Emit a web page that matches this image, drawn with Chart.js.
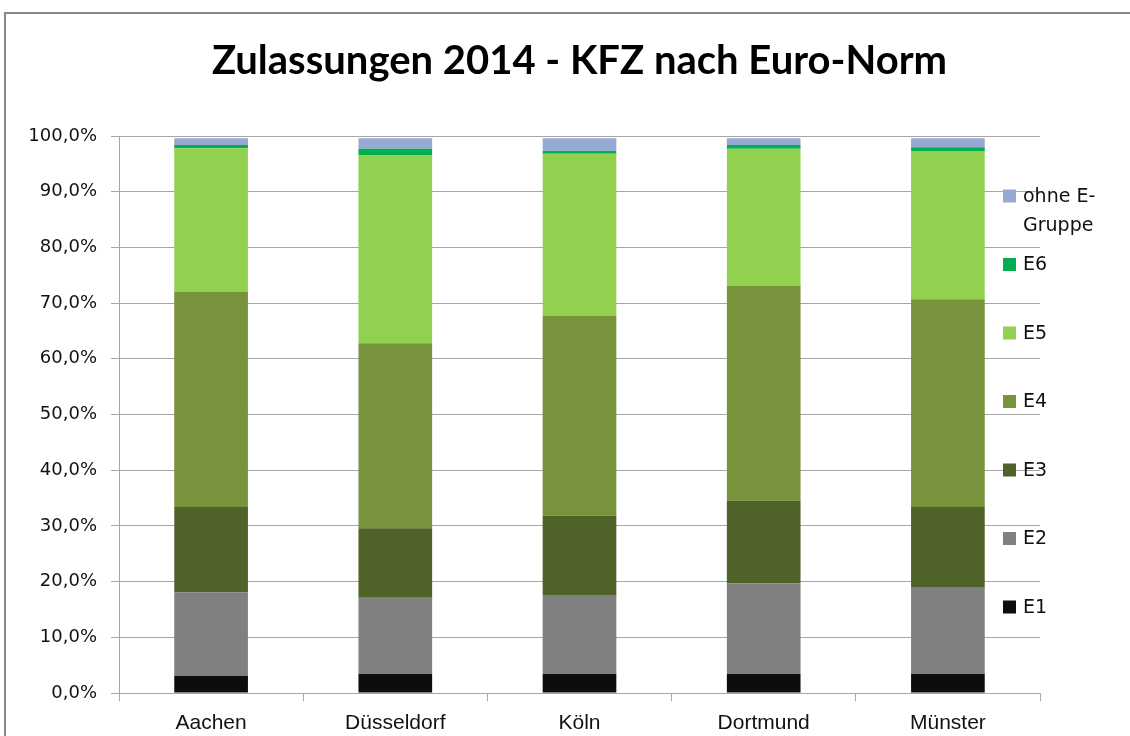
<!DOCTYPE html>
<html>
<head>
<meta charset="utf-8">
<script src="https://cdn.jsdelivr.net/npm/chart.js@4/dist/chart.umd.min.js"></script>
<style>
  html, body { margin: 0; padding: 0; background: #ffffff; }
  #wrap { width: 1130px; height: 736px; position: relative; }
</style>
</head>
<body>
<div id="wrap"><canvas id="c" width="1130" height="736"></canvas></div>
<script>
const categories = ['Aachen', 'Düsseldorf', 'Köln', 'Dortmund', 'Münster'];
const seriesNames = ['E1', 'E2', 'E3', 'E4', 'E5', 'E6', 'ohne E-Gruppe'];
const E1 = [3.1, 3.4, 3.4, 3.4, 3.4];
const E2 = [15.0, 13.7, 14.2, 16.3, 15.5];
const E3 = [15.3, 12.5, 14.2, 14.8, 14.5];
const E4 = [38.6, 33.2, 35.9, 38.6, 37.3];
const E5 = [25.8, 33.8, 29.1, 24.6, 26.6];
const E6 = [0.6, 1.1, 0.5, 0.7, 0.7];
const ohneE = [1.2, 1.9, 2.3, 1.2, 1.6];
const yTicks = [0, 10, 20, 30, 40, 50, 60, 70, 80, 90, 100];
const titleText = 'Zulassungen 2014 - KFZ nach Euro-Norm';

const seriesValues = [E1, E2, E3, E4, E5, E6, ohneE];
const seriesColors = ['#0d0d0d', '#808080', '#4f6228', '#77933c', '#92d050', '#00b050', '#95aad2'];

const datasets = seriesNames.map((name, i) => ({
  label: name,
  data: seriesValues[i],
  backgroundColor: seriesColors[i],
  borderWidth: 0,
  categoryPercentage: 0.8,
  barPercentage: 0.5
}));

const frameAndLegend = {
  id: 'frameAndLegend',
  beforeDraw(chart) {
    const ctx = chart.ctx;
    ctx.save();
    ctx.fillStyle = '#ffffff';
    ctx.fillRect(0, 0, chart.width, chart.height);
    ctx.strokeStyle = '#878787';
    ctx.lineWidth = 2;
    ctx.strokeRect(5, 13, 1300, 900);
    ctx.restore();
  },
  afterDraw(chart) {
    const ctx = chart.ctx;
    ctx.save();
    ctx.font = '19px "DejaVu Sans", sans-serif';
    ctx.textBaseline = 'middle';
    ctx.textAlign = 'left';
    const n = chart.data.datasets.length;
    let y = 196;
    for (let k = n - 1; k >= 0; k--) {
      const ds = chart.data.datasets[k];
      ctx.fillStyle = ds.backgroundColor;
      ctx.fillRect(1003, y - 6.5, 13, 13);
      ctx.fillStyle = '#111111';
      let lines = [ds.label];
      if (ds.label.length > 8) {
        const cut = ds.label.indexOf('-') + 1;
        lines = [ds.label.slice(0, cut), ds.label.slice(cut)];
      }
      lines.forEach((t, j) => ctx.fillText(t, 1023, y + 1 + j * 29));
      y += 68.5;
    }
    ctx.restore();
  }
};

new Chart(document.getElementById('c'), {
  type: 'bar',
  data: { labels: categories, datasets },
  plugins: [frameAndLegend],
  options: {
    responsive: false,
    animation: false,
    layout: { padding: { left: 18, right: 90, top: 0, bottom: 0 } },
    plugins: {
      legend: { display: false },
      tooltip: { enabled: false },
      title: {
        display: true,
        text: titleText,
        fullSize: false,
        color: '#000000',
        font: { family: 'Lato, "DejaVu Sans", sans-serif', size: 40, weight: 'bold', lineHeight: 1.2 },
        padding: { top: 37, bottom: 51 }
      }
    },
    scales: {
      x: {
        stacked: true,
        offset: true,
        grid: { display: true, offset: true, drawOnChartArea: false, drawTicks: true, tickLength: 8, color: '#a6a6a6' },
        border: { display: true, color: '#a6a6a6', width: 1 },
        ticks: { color: '#111111', padding: 10, font: { family: '"Liberation Sans Narrow", "Liberation Sans", sans-serif', size: 21 } },
        afterFit(scale) { scale.height = 43; }
      },
      y: {
        stacked: true,
        min: 0,
        max: 100,
        afterBuildTicks(scale) { scale.ticks = yTicks.map(v => ({ value: v })); },
        grid: { color: '#a6a6a6', tickLength: 8, drawTicks: true },
        border: { display: true, color: '#a6a6a6', width: 1 },
        ticks: {
          color: '#111111',
          padding: 14,
          font: { family: '"DejaVu Sans", sans-serif', size: 18 },
          callback: v => v.toFixed(1).replace('.', ',') + '%'
        },
        afterFit(scale) { scale.width = 101; }
      }
    }
  }
});
</script>
</body>
</html>
